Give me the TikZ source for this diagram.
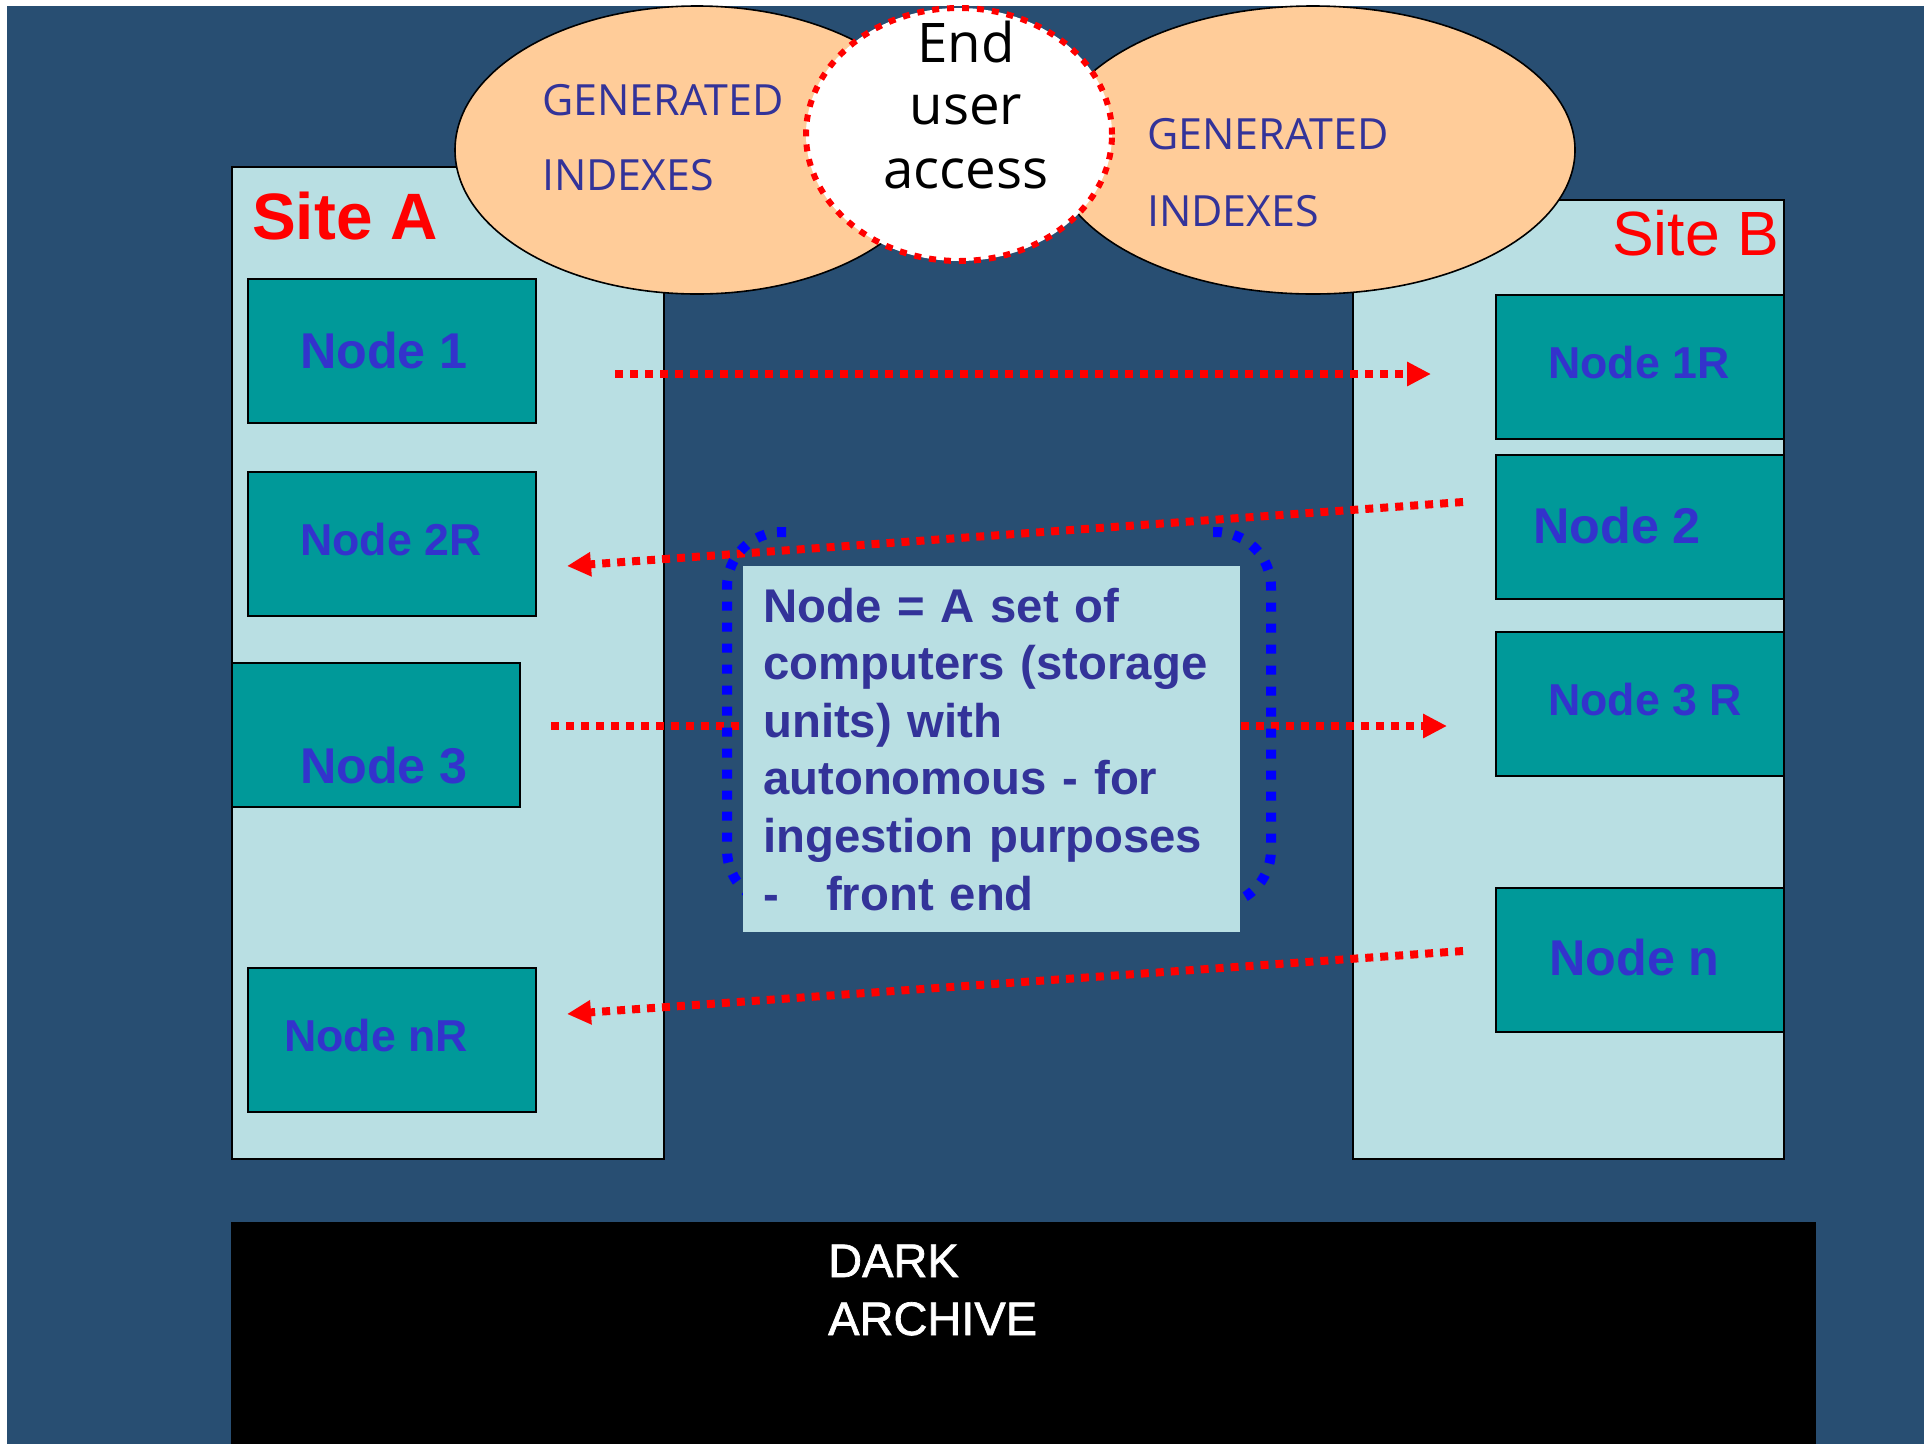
\documentclass[tikz,border=0pt]{standalone}
\usepackage{fontspec}
\setmainfont{Liberation Sans}
\newfontfamily\opensans{Open Sans}
\newfontfamily\archfont[FakeBold=1.5]{Liberation Sans}
\usetikzlibrary{arrows.meta,shapes.geometric}
\definecolor{bgblue}{RGB}{40,78,114}
\definecolor{sitefill}{RGB}{185,223,227}
\definecolor{nodeteal}{RGB}{0,153,153}
\definecolor{nodeblue}{RGB}{51,51,204}
\definecolor{idxblue}{RGB}{51,51,153}
\definecolor{peach}{RGB}{255,204,153}

\begin{document}
\begin{tikzpicture}[x=1pt,y=-1pt,
  sitebox/.style={draw=black,line width=1.6pt,fill=sitefill,anchor=north west,inner sep=0pt},
  nodebox/.style={draw=black,line width=1.6pt,fill=nodeteal,anchor=north west,inner sep=0pt,minimum width=288pt,minimum height=144pt},
  biglbl/.style={anchor=base west,inner sep=0pt,text=nodeblue,font=\bfseries\fontsize{50.3}{60}\selectfont},
  smalllbl/.style={biglbl,font=\bfseries\fontsize{44.7}{54}\selectfont},
  idxbubble/.style={ellipse,draw=black,line width=1.6pt,fill=peach,inner sep=0pt},
  idxlbl/.style={anchor=base west,inner sep=0pt,text=idxblue,font=\opensans\fontsize{43}{50}\selectfont},
  userlbl/.style={anchor=base,inner sep=0pt,text=black,font=\opensans\fontsize{54.6}{63}\selectfont},
  archlbl/.style={anchor=base west,inner sep=0pt,text=white,font=\archfont\fontsize{47}{58}\selectfont},
  reddots/.style={draw=red,line width=8pt,dash pattern=on 8pt off 7pt,-{Triangle[length=24pt,width=23pt]}},
  bluedots/.style={draw=blue,line width=10pt,dash pattern=on 9pt off 12pt,rounded corners=55pt}]
\useasboundingbox (0,0) rectangle (1924,1444);
% Background
\fill [white] (0,0) rectangle (1924,1444);
\fill [bgblue] (7,6) rectangle (1924,1444);
%
\node [sitebox,minimum width=432pt,minimum height=992pt] (siteA) at (231,166) {};
\node [sitebox,minimum width=431pt,minimum height=959pt] (siteB) at (1352,199) {};
%
\node [idxbubble,minimum width=484pt,minimum height=288pt] (idxA) at (697,150) {};
\node [idxbubble,minimum width=524pt,minimum height=288pt] (idxB) at (1313,150) {};
\node [ellipse,draw=red,fill=white,line width=6pt,dash pattern=on 7pt off 8pt,inner sep=0pt,
  minimum width=306pt,minimum height=253pt] (access) at (959,134.5) {};
%
\node [idxlbl] (genA) at (542,115) {GENERATED};
\node [idxlbl] (indA) at (542,190) {INDEXES};
\node [idxlbl] (genB) at (1147,149) {GENERATED};
\node [idxlbl] (indB) at (1147,226) {INDEXES};
\node [userlbl] (endlbl) at (966,62) {End};
\node [userlbl] (userlbl) at (966,124) {user};
\node [userlbl] (acclbl) at (966,188) {access};
%
\node [anchor=base west,inner sep=0pt,text=red,font=\bfseries\fontsize{65.6}{70}\selectfont] (siteAlbl) at (252,239) {Site A};
\node [anchor=base west,inner sep=0pt,text=red,font=\fontsize{62.5}{70}\selectfont] (siteBlbl) at (1612,255) {Site B};
% Site A nodes
\node [nodebox] (n1) at (247,278) {};
\node [biglbl] at (300,368) {Node 1};
\node [nodebox] (n2R) at (247,471) {};
\node [smalllbl] at (300,555) {Node 2R};
\node [nodebox] (n3) at (231,662) {};
\node [biglbl] at (300,783) {Node 3};
\node [nodebox] (nnR) at (247,967) {};
\node [smalllbl] at (284,1051) {Node nR};
% Site B nodes
\node [nodebox] (n1R) at (1495,294) {};
\node [smalllbl] at (1548,378) {Node 1R};
\node [nodebox] (n2) at (1495,454) {};
\node [biglbl] at (1533,543) {Node 2};
\node [nodebox] (n3R) at (1495,631) {};
\node [smalllbl] at (1548,715) {Node 3 R};
\node [nodebox] (nn) at (1495,887) {};
\node [biglbl] at (1549,975) {Node n};
% Replication
\coordinate (a1s) at (615,374);
\coordinate (a1e) at (1431,374);
\coordinate (a2s) at (1463,502);
\coordinate (a2e) at (567,566);
\coordinate (a3s) at (551,726);
\coordinate (a3e) at (1447,726);
\coordinate (a4s) at (1463,951);
\coordinate (a4e) at (567,1014);
\draw [reddots] (a1s) -- (a1e);
\draw [reddots] (a2s) -- (a2e);
\draw [reddots] (a3s) -- (a3e);
\draw [reddots] (a4s) -- (a4e);
%
\draw [bluedots] (786,532) -- (727,532) -- (727,905) -- (786,905);
\draw [bluedots] (1213,532) -- (1271,532) -- (1271,905) -- (1213,905);
\node [anchor=north west,fill=sitefill,text=idxblue,align=left,inner xsep=20pt,inner ysep=21.5pt,
  minimum width=497pt,minimum height=366pt,text width=457pt,
  font=\bfseries\fontsize{47.3}{57.6}\selectfont] (note) at (743,566)
  {Node = A set of\\computers (storage\\units) with\\autonomous - for\\ingestion purposes\\-\ \ \ front end};
% Archive
\node [anchor=north west,fill=black,inner sep=0pt,minimum width=1585pt,minimum height=222pt] (archive) at (231,1222) {};
\node [archlbl] (dark) at (828,1277) {DARK};
\node [archlbl] (arch) at (828,1335) {ARCHIVE};
%
\end{tikzpicture}
\end{document}
